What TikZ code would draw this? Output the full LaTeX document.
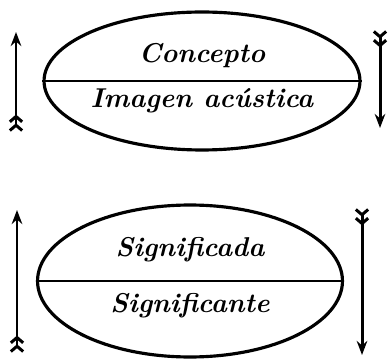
\documentclass[tikz,border=0pt]{standalone}
\usepackage{tikz}
\usetikzlibrary{arrows.meta,shapes.geometric,positioning}
\tikzset{
  line cap=round,
  line join=round,
  signo/.style={draw, ellipse, line width=1.8pt, inner sep=0pt},
  rotulo/.style={font=\fontsize{15.5}{18}\selectfont\bfseries\itshape, inner sep=1pt},
  flecha/.style={line width=1.7pt,
    arrows={Straight Barb[reversed,length=3pt,width=7pt] Straight Barb[reversed,length=3pt,width=7pt]
      -Stealth[length=8pt,width=6pt]}},
}

\begin{document}
\begin{tikzpicture}[x=0.02cm, y=-0.02cm]
\useasboundingbox (0,0) rectangle (388,364);

% primer signo
\node[signo, minimum width=6.32cm, minimum height=2.76cm] (sigA) at (202,81) {};
\draw[line width=1.4pt] (sigA.west) -- (sigA.east);
\node[rotulo] (concepto) at ([yshift=0.5cm]sigA.center) {Concepto};
\node[rotulo] (imagen) at ([yshift=-0.4cm]sigA.center) {Imagen acústica};

% segundo signo
\node[signo, minimum width=6.1cm, minimum height=3.04cm] (sigB) at (190,281) {};
\draw[line width=1.4pt] (sigB.west) -- (sigB.east);
\node[rotulo] (significado) at ([yshift=0.62cm]sigB.center) {Significada};
\node[rotulo] (significante) at ([yshift=-0.5cm]sigB.center) {Significante};

% flechas
\coordinate (a1) at (16,132);  \coordinate (a2) at (16,32);
\coordinate (b1) at (380,30);  \coordinate (b2) at (380,128);
\coordinate (c1) at (17,353);  \coordinate (c2) at (17,210);
\coordinate (d1) at (362,208); \coordinate (d2) at (362,355);
\draw[flecha] (a1) -- (a2);
\draw[flecha] (b1) -- (b2);
\draw[flecha] (c1) -- (c2);
\draw[flecha] (d1) -- (d2);

\end{tikzpicture}
\end{document}
